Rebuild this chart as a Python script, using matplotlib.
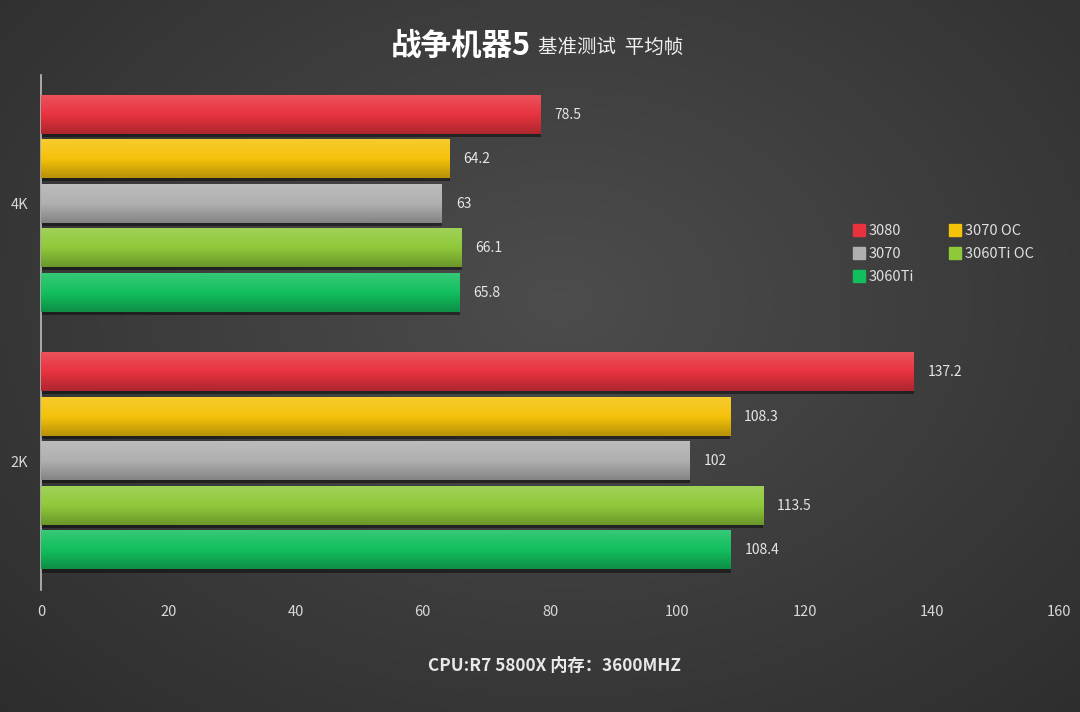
import numpy as np
import matplotlib
matplotlib.use("Agg")
import matplotlib.pyplot as plt
from matplotlib.colors import LinearSegmentedColormap, to_rgb
from matplotlib.lines import Line2D

plt.rcParams['font.family'] = ['Noto Sans CJK SC', 'DejaVu Sans']

# data
categories = ["2K", "4K"]
series = ["3080", "3070 OC", "3070", "3060Ti OC", "3060Ti"]
values = {
    "3080":      [137.2, 78.5],
    "3070 OC":   [108.3, 64.2],
    "3070":      [102, 63],
    "3060Ti OC": [113.5, 66.1],
    "3060Ti":    [108.4, 65.8],
}
colors = {
    "3080": "#e8333f",
    "3070 OC": "#f5c20a",
    "3070": "#b0b0b0",
    "3060Ti OC": "#8fc93a",
    "3060Ti": "#12bf5e",
}
xticks = [0, 20, 40, 60, 80, 100, 120, 140, 160]

fig = plt.figure(figsize=(10.8, 7.12), dpi=100)

# background with soft radial gradient
bg = fig.add_axes([0, 0, 1, 1], zorder=-10)
yy, xx = np.mgrid[0:712, 0:1080]
r = np.sqrt(((xx - 560) / 700.0) ** 2 + ((yy - 300) / 520.0) ** 2)
shade = np.clip(0.30 - 0.11 * r, 0.17, 0.30)
bg.imshow(np.dstack([shade, shade, shade]), aspect='auto', extent=[0, 1, 0, 1])
bg.axis('off')

ax = fig.add_axes([0.038, 0.1713, 0.9426, 0.7233])
ax.set_facecolor('none')

y = np.arange(len(categories))
step = 0.173
h = 0.148

def lighten(c, f):
    c = np.array(to_rgb(c))
    return tuple(c + (1 - c) * f)

def darken(c, f):
    c = np.array(to_rgb(c))
    return tuple(c * (1 - f))

for i, s in enumerate(series):
    off = (2 - i) * step
    vals = values[s]
    # shadow under bar
    ax.barh(y + off - 0.012, vals, height=h, color='black', alpha=0.45, zorder=1)
    bars = ax.barh(y + off, vals, height=h, color=colors[s], zorder=2)
    cmap = LinearSegmentedColormap.from_list(
        s, [darken(colors[s], 0.25), colors[s], lighten(colors[s], 0.15)])
    grad = np.linspace(0, 1, 64).reshape(-1, 1)
    for b, v in zip(bars, vals):
        y0 = b.get_y()
        ax.imshow(grad, cmap=cmap, aspect='auto', origin='lower',
                  extent=[0, v, y0, y0 + b.get_height()], zorder=3)
        lbl = str(v) if v != int(v) else str(int(v))
        ax.text(v + 2.2, y0 + b.get_height() / 2, lbl, va='center', ha='left',
                color='#e6e6e6', fontsize=10, zorder=4)

ax.set_xlim(0, 160)
ax.set_ylim(-0.5, 1.5)
ax.set_xticks(xticks)
ax.set_yticks(y)
ax.set_yticklabels(categories)
ax.tick_params(axis='x', length=0, pad=11, colors='#d8d8d8', labelsize=10.5)
ax.tick_params(axis='y', length=0, pad=9, colors='#d8d8d8', labelsize=10.5)
for sp in ['top', 'right', 'bottom']:
    ax.spines[sp].set_visible(False)
ax.spines['left'].set_color('#bdbdbd')
ax.spines['left'].set_linewidth(1.2)

# legend, row-major order
order = ["3080", "3070", "3060Ti", "3070 OC", "3060Ti OC"]
handles = [Line2D([], [], marker='s', linestyle='none', markersize=8,
                  markerfacecolor=colors[s], markeredgecolor=colors[s], label=s)
           for s in order]
leg = ax.legend(handles=handles, ncol=2, frameon=False, loc='upper left',
                bbox_to_anchor=(0.783, 0.737), fontsize=10.5, labelcolor='#e0e0e0',
                handletextpad=0.2, columnspacing=2.3, labelspacing=0.62,
                handlelength=1.0)

fig.text(0.491, 0.936, "战争机器5", ha='right', va='center', color='white',
         fontsize=22, fontweight='bold')
fig.text(0.498, 0.934, "基准测试  平均帧", ha='left', va='center', color='#f0f0f0',
         fontsize=14)
fig.text(0.513, 0.065, "CPU:R7 5800X 内存：3600MHZ", ha='center', va='center',
         color='#e8e8e8', fontsize=12.4, fontweight='bold')

fig.savefig("out.png", dpi=100)
